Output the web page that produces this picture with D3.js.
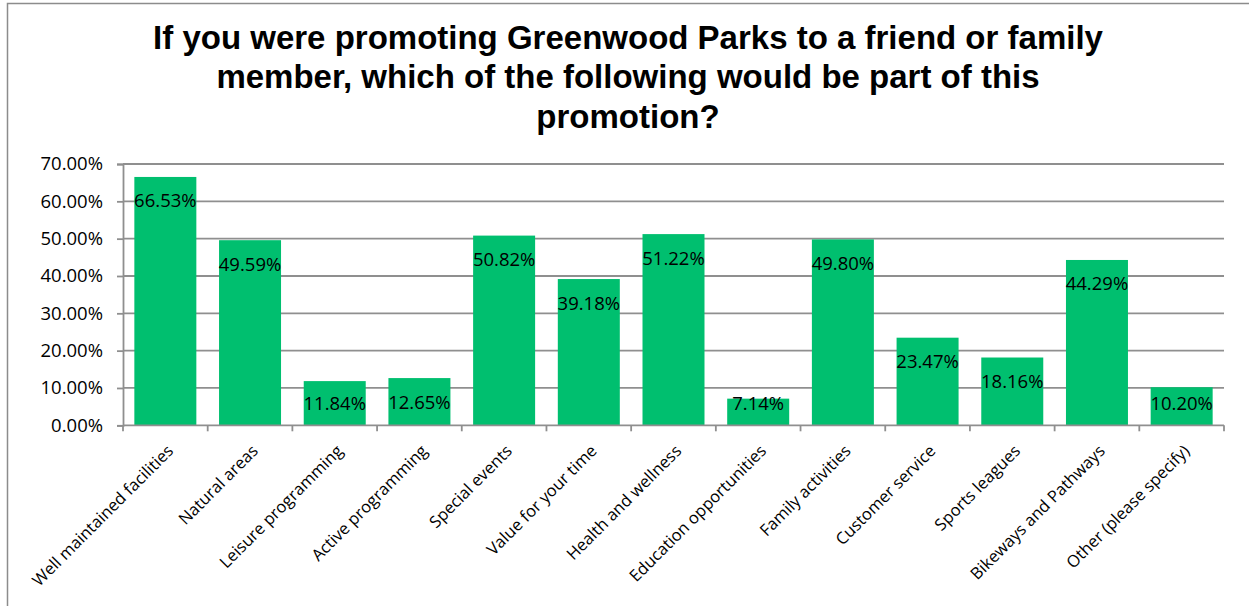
<!DOCTYPE html>
<html>
<head>
<meta charset="utf-8">
<script src="https://cdn.jsdelivr.net/npm/d3@7"></script>
<style>
  html, body { margin: 0; padding: 0; background: #fff; }
  svg { display: block; }
</style>
</head>
<body>
<svg id="chart" width="1249" height="606"></svg>
<script>
const categories = [
  "Well maintained facilities", "Natural areas", "Leisure programming",
  "Active programming", "Special events", "Value for your time",
  "Health and wellness", "Education opportunities", "Family activities",
  "Customer service", "Sports leagues", "Bikeways and Pathways",
  "Other (please specify)"
];
const values = [66.53, 49.59, 11.84, 12.65, 50.82, 39.18, 51.22, 7.14, 49.80, 23.47, 18.16, 44.29, 10.20];
const yTicks = [0, 10, 20, 30, 40, 50, 60, 70];
const titleLines = [
  "If you were promoting Greenwood Parks to a friend or family",
  "member, which of the following would be part of this",
  "promotion?"
];

const svg = d3.select("#chart");
const W = 1249, H = 606;
const plot = { left: 123, right: 1224, top: 164, bottom: 425.3 };
const labelFont = "'Open Sans', 'DejaVu Sans', sans-serif";

// outer border
svg.append("rect")
  .attr("x", 7.5).attr("y", 3.5)
  .attr("width", W + 20).attr("height", H + 20)
  .attr("fill", "#fff").attr("stroke", "#8c8c8c").attr("stroke-width", 1.5);

// title
svg.append("g").selectAll("text").data(titleLines).join("text")
  .attr("x", 628)
  .attr("y", (d, i) => 48.5 + i * 39.5)
  .attr("text-anchor", "middle")
  .attr("font-family", "'Liberation Sans', Arial, sans-serif")
  .attr("font-weight", "bold")
  .attr("font-size", 33)
  .attr("fill", "#000")
  .text(d => d);

const x = d3.scaleBand()
  .domain(categories)
  .range([plot.left, plot.right])
  .paddingInner(0.268)
  .paddingOuter(0.134);

const y = d3.scaleLinear()
  .domain([0, 70])
  .range([plot.bottom, plot.top]);

// gridlines
svg.append("g").selectAll("line").data(yTicks.filter(t => t > 0)).join("line")
  .attr("x1", plot.left).attr("x2", plot.right)
  .attr("y1", d => y(d)).attr("y2", d => y(d))
  .attr("stroke", "#8f8f8f").attr("stroke-width", 1.8);

// y axis
const yAxis = d3.axisLeft(y)
  .tickValues(yTicks)
  .tickSize(6)
  .tickPadding(14)
  .tickFormat(d => d3.format(".2f")(d) + "%");
const gy = svg.append("g").attr("transform", `translate(${plot.left},0)`).call(yAxis);
gy.select(".domain").attr("stroke", "#8f8f8f").attr("stroke-width", 1.8);
gy.selectAll(".tick line").attr("stroke", "#8f8f8f").attr("stroke-width", 1.8);
gy.selectAll(".tick text")
  .attr("font-family", labelFont).attr("font-size", 18.5).attr("fill", "#000");

// bars
svg.append("g").selectAll("rect").data(values).join("rect")
  .attr("x", (d, i) => x(categories[i]))
  .attr("width", x.bandwidth())
  .attr("y", d => y(d))
  .attr("height", d => y(0) - y(d))
  .attr("fill", "#00BF6F");

// x axis line and ticks at band boundaries
const boundaries = d3.range(categories.length + 1).map(i => plot.left + i * x.step());
svg.append("line")
  .attr("x1", plot.left).attr("x2", plot.right)
  .attr("y1", plot.bottom).attr("y2", plot.bottom)
  .attr("stroke", "#8f8f8f").attr("stroke-width", 1.8);
svg.append("g").selectAll("line").data(boundaries).join("line")
  .attr("x1", d => d).attr("x2", d => d)
  .attr("y1", plot.bottom).attr("y2", plot.bottom + 6)
  .attr("stroke", "#8f8f8f").attr("stroke-width", 1.8);

// category labels
svg.append("g").selectAll("text").data(categories).join("text")
  .attr("transform", d => `translate(${x(d) + x.bandwidth() / 2 + 9},452) rotate(-45)`)
  .attr("text-anchor", "end")
  .attr("font-family", labelFont)
  .attr("font-size", 16.5)
  .attr("fill", "#000")
  .text(d => d);

// data labels
svg.append("g").selectAll("text").data(values).join("text")
  .attr("x", (d, i) => x(categories[i]) + x.bandwidth() / 2)
  .attr("y", d => Math.min(y(d) + 30.5, 409.5))
  .attr("text-anchor", "middle")
  .attr("font-family", labelFont)
  .attr("font-size", 18.5)
  .attr("fill", "#000")
  .text(d => d3.format(".2f")(d) + "%");
</script>
</body>
</html>
